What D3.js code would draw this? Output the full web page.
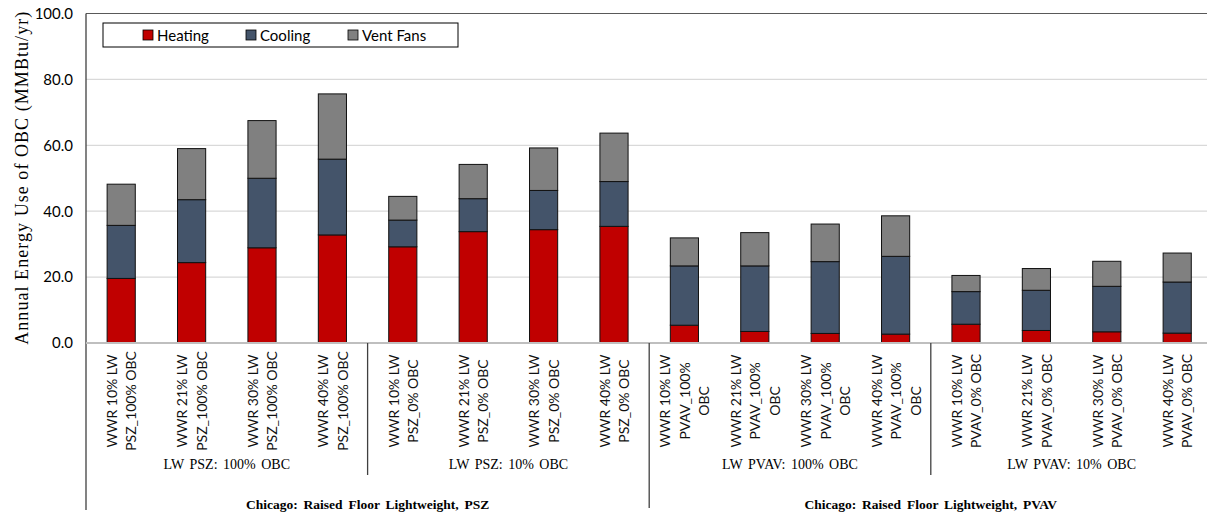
<!DOCTYPE html>
<html>
<head>
<meta charset="utf-8">
<script src="https://cdn.jsdelivr.net/npm/d3@7"></script>
<style>
  html, body { margin: 0; padding: 0; background: #fff; }
  svg { display: block; }
</style>
</head>
<body>
<svg id="chart" width="1207" height="516"></svg>
<script>
// Category labels (each entry is the lines of one tick label)
const categories = [
  ["WWR 10% LW", "PSZ_100% OBC"],
  ["WWR 21% LW", "PSZ_100% OBC"],
  ["WWR 30% LW", "PSZ_100% OBC"],
  ["WWR 40% LW", "PSZ_100% OBC"],
  ["WWR 10% LW", "PSZ_0% OBC"],
  ["WWR 21% LW", "PSZ_0% OBC"],
  ["WWR 30% LW", "PSZ_0% OBC"],
  ["WWR 40% LW", "PSZ_0% OBC"],
  ["WWR 10% LW", "PVAV_100%", "OBC"],
  ["WWR 21% LW", "PVAV_100%", "OBC"],
  ["WWR 30% LW", "PVAV_100%", "OBC"],
  ["WWR 40% LW", "PVAV_100%", "OBC"],
  ["WWR 10% LW", "PVAV_0% OBC"],
  ["WWR 21% LW", "PVAV_0% OBC"],
  ["WWR 30% LW", "PVAV_0% OBC"],
  ["WWR 40% LW", "PVAV_0% OBC"]
];

// Annual energy use by end use (MMBtu/yr)
const heating  = [19.6, 24.4, 28.9, 32.8, 29.2, 33.8, 34.4, 35.4, 5.4, 3.5, 2.9, 2.7, 5.7, 3.8, 3.4, 3.0];
const cooling  = [16.1, 19.1, 21.1, 23.0, 8.1, 10.0, 11.9, 13.6, 18.0, 19.9, 21.8, 23.6, 9.9, 12.2, 13.8, 15.5];
const ventFans = [12.5, 15.5, 17.5, 19.8, 7.2, 10.4, 12.9, 14.7, 8.5, 10.1, 11.4, 12.3, 4.9, 6.6, 7.6, 8.8];

const seriesNames = ["Heating", "Cooling", "Vent Fans"];
const seriesColors = ["#c00000", "#44546a", "#808080"];

// Grouping levels below the category axis
const subGroups = ["LW PSZ: 100% OBC", "LW PSZ: 10% OBC", "LW PVAV: 100% OBC", "LW PVAV: 10% OBC"];
const outerGroups = ["Chicago: Raised Floor Lightweight, PSZ", "Chicago: Raised Floor Lightweight, PVAV"];

const yTicks = [0, 20, 40, 60, 80, 100];
const yTitle = "Annual Energy Use of OBC (MMBtu/yr)";

const svg = d3.select("#chart");
const plot = { left: 86, top: 13.5, bottom: 343, right: 1212.4 };

const x = d3.scaleBand()
  .domain(d3.range(categories.length))
  .range([plot.left, plot.right])
  .paddingInner(0.6)
  .paddingOuter(0.3);

const y = d3.scaleLinear().domain([0, 100]).range([plot.bottom, plot.top]);

// Gridlines
svg.append("g")
  .selectAll("line")
  .data(yTicks.filter(d => d > 0 && d < 100))
  .join("line")
  .attr("x1", plot.left).attr("x2", 1207)
  .attr("y1", d => y(d)).attr("y2", d => y(d))
  .attr("stroke", "#d9d9d9").attr("stroke-width", 1.2);

// Top frame line
svg.append("line")
  .attr("x1", plot.left).attr("x2", 1207)
  .attr("y1", y(100)).attr("y2", y(100))
  .attr("stroke", "#595959").attr("stroke-width", 1.2);

// Stacked bars
const rows = categories.map((c, i) => ({ i, Heating: heating[i], Cooling: cooling[i], "Vent Fans": ventFans[i] }));
const stacked = d3.stack().keys(seriesNames)(rows);

svg.append("g")
  .selectAll("g")
  .data(stacked)
  .join("g")
  .attr("fill", (d, k) => seriesColors[k])
  .selectAll("rect")
  .data(d => d)
  .join("rect")
  .attr("x", d => x(d.data.i))
  .attr("width", x.bandwidth())
  .attr("y", d => y(d[1]))
  .attr("height", d => y(d[0]) - y(d[1]))
  .attr("stroke", "#111")
  .attr("stroke-width", 1);

// Y axis
const yAxis = svg.append("g")
  .attr("transform", `translate(${plot.left},0)`)
  .call(d3.axisLeft(y).tickValues(yTicks).tickFormat(d3.format(".1f")).tickSize(0).tickPadding(13));
yAxis.select(".domain").remove();
yAxis.selectAll("text")
  .attr("font-family", "Lato, 'Open Sans', sans-serif")
  .attr("font-size", 15)
  .attr("fill", "#000");

// Left axis line (continues down past the category levels)
svg.append("line")
  .attr("x1", plot.left).attr("x2", plot.left)
  .attr("y1", y(100)).attr("y2", 510)
  .attr("stroke", "#404040").attr("stroke-width", 1.3);

// Category baseline
svg.append("line")
  .attr("x1", plot.left).attr("x2", 1207)
  .attr("y1", y(0)).attr("y2", y(0))
  .attr("stroke", "#bfbfbf").attr("stroke-width", 2);

// Y axis title
svg.append("text")
  .attr("transform", `translate(22,${(y(0) + y(100)) / 2}) rotate(-90)`)
  .attr("text-anchor", "middle")
  .attr("dominant-baseline", "central")
  .attr("font-family", "'Liberation Serif', 'Times New Roman', serif")
  .attr("font-size", 18)
  .attr("textLength", 333)
  .text(yTitle);

// Category tick labels
const step = x.step();
const tickG = svg.append("g")
  .selectAll("g")
  .data(categories)
  .join("g")
  .attr("transform", (d, i) => `translate(${x(i) + x.bandwidth() / 2},401) rotate(-90)`);
tickG.append("text")
  .attr("text-anchor", "middle")
  .attr("font-family", "Lato, 'Open Sans', sans-serif")
  .attr("font-size", 14)
  .attr("fill", "#111")
  .selectAll("tspan")
  .data(d => d.map((t, k) => ({ t, k, n: d.length })))
  .join("tspan")
  .attr("x", 0)
  .attr("y", d => (d.k - (d.n - 1) / 2) * 19.5)
  .attr("dominant-baseline", "central")
  .text(d => d.t);

// Sub-group labels and separators
const subSize = categories.length / subGroups.length;
subGroups.forEach((label, g) => {
  const x0 = x(g * subSize) - step * x.paddingInner() / 2;
  const x1 = x(g * subSize + subSize - 1) + x.bandwidth() + step * x.paddingInner() / 2;
  svg.append("text")
    .attr("x", (x0 + x1) / 2).attr("y", 469)
    .attr("text-anchor", "middle")
    .attr("font-family", "'Liberation Serif', 'Times New Roman', serif")
    .attr("font-size", 14)
    .attr("word-spacing", 2)
    .text(label);
  if (g > 0) {
    const deep = g % (subGroups.length / outerGroups.length) === 0;
    svg.append("line")
      .attr("x1", x0).attr("x2", x0)
      .attr("y1", y(0)).attr("y2", deep ? 508 : 475)
      .attr("stroke", "#404040").attr("stroke-width", 1.3);
  }
});

// Outer group labels
const outerSize = categories.length / outerGroups.length;
outerGroups.forEach((label, g) => {
  const x0 = x(g * outerSize) - step * x.paddingInner() / 2;
  const x1 = x(g * outerSize + outerSize - 1) + x.bandwidth() + step * x.paddingInner() / 2;
  svg.append("text")
    .attr("x", (x0 + x1) / 2).attr("y", 509)
    .attr("text-anchor", "middle")
    .attr("font-family", "'Liberation Serif', 'Times New Roman', serif")
    .attr("font-size", 13.5)
    .attr("font-weight", "bold")
    .attr("word-spacing", 2.5)
    .text(label);
});

// Legend
const legend = svg.append("g");
legend.append("rect")
  .attr("x", 103).attr("y", 23).attr("width", 355).attr("height", 24)
  .attr("fill", "#fff").attr("stroke", "#000").attr("stroke-width", 1);
const legendX = [143, 246, 348];
seriesNames.forEach((name, k) => {
  legend.append("rect")
    .attr("x", legendX[k]).attr("y", 30).attr("width", 10).attr("height", 10)
    .attr("fill", seriesColors[k]).attr("stroke", "#000").attr("stroke-width", 0.8);
  legend.append("text")
    .attr("x", legendX[k] + 14).attr("y", 35)
    .attr("dominant-baseline", "central")
    .attr("font-family", "Lato, 'Open Sans', sans-serif")
    .attr("font-size", 15)
    .text(name);
});
</script>
</body>
</html>
